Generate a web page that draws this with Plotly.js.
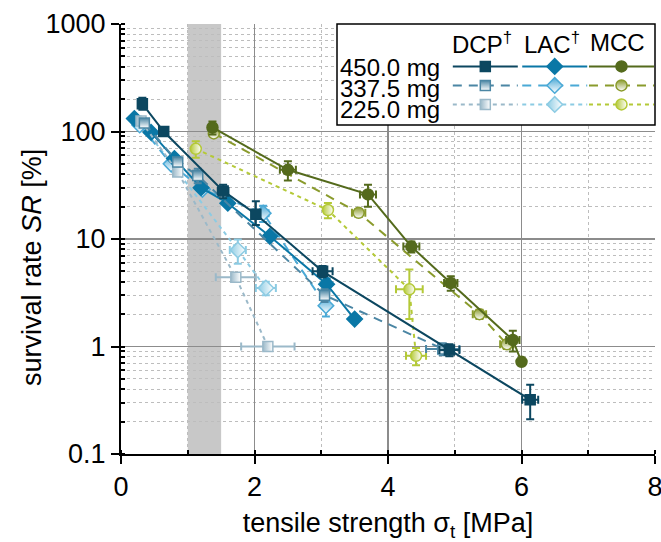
<!DOCTYPE html>
<html>
<head>
<meta charset="utf-8">
<script src="https://cdn.plot.ly/plotly-3.0.1.min.js"></script>
<style>html,body{margin:0;padding:0;background:#fff;}#chart{width:661px;height:542px;}</style>
</head>
<body>
<div id="chart"></div>
<script>
// ---- data ----
const rowLabels = ['450.0 mg', '337.5 mg', '225.0 mg'];
const colLabels = ['DCP<sup>†</sup>', 'LAC<sup>†</sup>', 'MCC'];

const xDCP450 = [0.32, 0.64, 1.53, 2.02, 3.02, 4.92, 6.13];
const yDCP450 = [181, 100, 28, 17, 5.0, 0.93, 0.32];
const eyDCP450p = [25, 0, 4, 5.5, 0.6, 0.12, 0.12];
const eyDCP450m = [22, 0, 4, 3.5, 0.6, 0.12, 0.11];
const exDCP450 = [0, 0, 0.08, 0, 0.15, 0.15, 0.12];

const xDCP337 = [0.35, 0.85, 1.15, 3.05, 4.82];
const yDCP337 = [120, 52, 39, 3.0, 0.95];
const eyDCP337 = [0, 0, 6, 0.4, 0.12];
const exDCP337 = [0, 0, 0, 0, 0.25];

const xDCP225 = [0.3, 0.85, 1.72, 2.2];
const yDCP225 = [125, 42, 4.4, 1.0];
const eyDCP225 = [0, 0, 0.3, 0.05];
const exDCP225 = [0, 0, 0.3, 0.4];

const xLAC450 = [0.2, 0.45, 0.8, 1.2, 1.6, 2.23, 3.08, 3.5];
const yLAC450 = [132, 98, 56, 30, 21.5, 10.6, 3.8, 1.8];
const eyLAC450 = [0, 0, 0, 0, 0, 0, 0.5, 0];

const xLAC337 = [0.28, 0.75, 1.22, 2.13, 3.07];
const yLAC337 = [115, 50, 29, 17.4, 2.4];
const eyLAC337 = [0, 0, 0, 3, 0.5];
const exLAC337 = [0, 0, 0, 0.08, 0];

const xLAC225 = [0.3, 0.78, 1.75, 2.17];
const yLAC225 = [118, 48, 7.9, 3.5];
const eyLAC225 = [0, 0, 2, 0.5];
const exLAC225 = [0, 0, 0.12, 0.15];

const xMCC450 = [1.37, 2.5, 3.7, 4.35, 4.94, 5.87, 6.0];
const yMCC450 = [109, 44, 26, 8.5, 3.9, 1.15, 0.72];
const eyMCC450 = [15, 9, 6, 1, 0.6, 0.25, 0];
const exMCC450 = [0, 0.12, 0.12, 0.12, 0.1, 0.1, 0];

const xMCC337 = [1.39, 3.56, 5.37, 5.78];
const yMCC337 = [96, 17.5, 2.0, 1.05];
const eyMCC337 = [0, 1.5, 0.2, 0.1];
const exMCC337 = [0, 0.1, 0.1, 0.1];

const xMCC225 = [1.12, 3.1, 4.32, 4.42];
const yMCC225 = [69, 18.6, 3.4, 0.82];
const eyMCC225p = [12, 3, 1.8, 0.15];
const eyMCC225m = [12, 3, 1.6, 0.15];
const exMCC225 = [0, 0, 0.2, 0.15];

const bandX = [1.0, 1.5];

// ---- styling ----
const FONT = 'Liberation Sans, Arial, sans-serif';
const colors = {
  DCP: ['#0c4760', '#4b86a4', '#9bb9c9'],
  LAC: ['#0a77a6', '#4aa9d6', '#8ccbe3'],
  MCC: ['#546a1c', '#8a9b2c', '#b4c937']
};
const symbols = {DCP: 'square', LAC: 'diamond', MCC: 'circle'};
const sizes = {DCP: 10, LAC: 12, MCC: 11};
const dashes = ['solid', '9px,7px', '4px,4px'];
const gradients = [null, 'vertical', 'horizontal'];
const legendOf = {DCP: 'legend', LAC: 'legend2', MCC: 'legend3'};

function mk(mat, lvl, x, y, eyp, eym, ex) {
  const c = colors[mat][lvl];
  const marker = {symbol: symbols[mat], size: sizes[mat], color: c,
                  line: {color: c, width: 1.5}};
  if (gradients[lvl]) marker.gradient = {type: gradients[lvl], color: '#ffffff'};
  const t = {
    type: 'scatter', mode: 'lines+markers', x: x, y: y,
    name: '', legend: legendOf[mat], showlegend: true,
    line: {color: c, width: 2, dash: dashes[lvl]},
    marker: marker, cliponaxis: false
  };
  if (eyp) t.error_y = {type: 'data', array: eyp, arrayminus: eym || eyp, color: c, thickness: 2, width: 4};
  if (ex) t.error_x = {type: 'data', array: ex, color: c, thickness: 2, width: 4};
  return t;
}

const traces = [
  mk('MCC', 2, xMCC225, yMCC225, eyMCC225p, eyMCC225m, exMCC225),
  mk('MCC', 1, xMCC337, yMCC337, eyMCC337, null, exMCC337),
  mk('MCC', 0, xMCC450, yMCC450, eyMCC450, null, exMCC450),
  mk('LAC', 2, xLAC225, yLAC225, eyLAC225, null, exLAC225),
  mk('LAC', 1, xLAC337, yLAC337, eyLAC337, null, exLAC337),
  mk('LAC', 0, xLAC450, yLAC450, eyLAC450, null, null),
  mk('DCP', 2, xDCP225, yDCP225, eyDCP225, null, exDCP225),
  mk('DCP', 1, xDCP337, yDCP337, eyDCP337, null, exDCP337),
  mk('DCP', 0, xDCP450, yDCP450, eyDCP450p, eyDCP450m, exDCP450)
];

function legendCfg(xl) {
  return {x: xl, xanchor: 'left', y: 0.935, yanchor: 'top',
          bgcolor: 'rgba(0,0,0,0)', borderwidth: 0,
          font: {family: FONT, size: 12, color: '#000'},
          traceorder: 'reversed', itemwidth: 65, tracegroupgap: 0};
}

const layout = {
  width: 661, height: 542,
  margin: {l: 121, r: 6, t: 24, b: 88, autoexpand: false},
  paper_bgcolor: '#fff', plot_bgcolor: '#fff',
  font: {family: FONT, size: 27, color: '#000'},
  xaxis: {
    range: [0, 8], dtick: 2, tick0: 0,
    showline: true, linecolor: '#000', linewidth: 2,
    ticks: 'outside', ticklen: 8, tickwidth: 2, tickcolor: '#000',
    showgrid: true, gridcolor: '#8c8c8c', gridwidth: 1.5,
    zeroline: false, ticklabeloverflow: 'allow', automargin: false,
    minor: {dtick: 1, showgrid: true, gridcolor: '#bdbdbd', griddash: 'dot', gridwidth: 1,
            ticks: 'inside', ticklen: 4, tickcolor: '#000'},
    tickfont: {family: FONT, size: 27},
    title: {text: 'tensile strength σ<sub>t</sub> [MPa]', font: {family: FONT, size: 27}, standoff: 14}
  },
  yaxis: {
    type: 'log', range: [-1, 3], dtick: 1,
    showline: true, linecolor: '#000', linewidth: 2,
    ticks: 'outside', ticklen: 8, tickwidth: 2, tickcolor: '#000',
    showgrid: true, gridcolor: '#8c8c8c', gridwidth: 1.5,
    zeroline: false, automargin: false,
    minor: {dtick: 'D1', showgrid: true, gridcolor: '#bdbdbd', griddash: 'dot', gridwidth: 1,
            ticks: 'inside', ticklen: 4, tickcolor: '#000'},
    tickfont: {family: FONT, size: 27},
    title: {text: ''}
  },
  shapes: [
    {type: 'rect', xref: 'x', yref: 'paper', x0: bandX[0], x1: bandX[1], y0: 0, y1: 1,
     fillcolor: '#c8c8c8', line: {width: 0}, layer: 'below'},
    {type: 'rect', xref: 'paper', yref: 'paper', x0: 0.4045, x1: 1.0, y0: 0.765, y1: 1.0,
     fillcolor: '#ffffff', line: {color: '#000', width: 1.5}, layer: 'above'}
  ],
  annotations: [
    {xref: 'paper', yref: 'paper', x: -0.1667, y: 0.435, xanchor: 'center', yanchor: 'middle',
     textangle: -90, text: 'survival rate <i>SR</i> [%]', showarrow: false,
     font: {family: FONT, size: 27, color: '#000'}}
  ],
  legend: legendCfg(0.612),
  legend2: legendCfg(0.742),
  legend3: legendCfg(0.867)
};

const colX = [0.676, 0.807, 0.929];
colLabels.forEach((t, i) => layout.annotations.push({
  xref: 'paper', yref: 'paper', x: colX[i], y: 0.956, xanchor: 'center', yanchor: 'middle',
  text: t, showarrow: false, font: {family: FONT, size: 24, color: '#000'}
}));
const rowY = [0.898, 0.851, 0.802];
rowLabels.forEach((t, i) => layout.annotations.push({
  xref: 'paper', yref: 'paper', x: 0.406, y: rowY[i], xanchor: 'left', yanchor: 'middle',
  text: t, showarrow: false, font: {family: FONT, size: 24, color: '#000'}
}));

Plotly.newPlot('chart', traces, layout, {displayModeBar: false, staticPlot: true});
</script>
</body>
</html>
